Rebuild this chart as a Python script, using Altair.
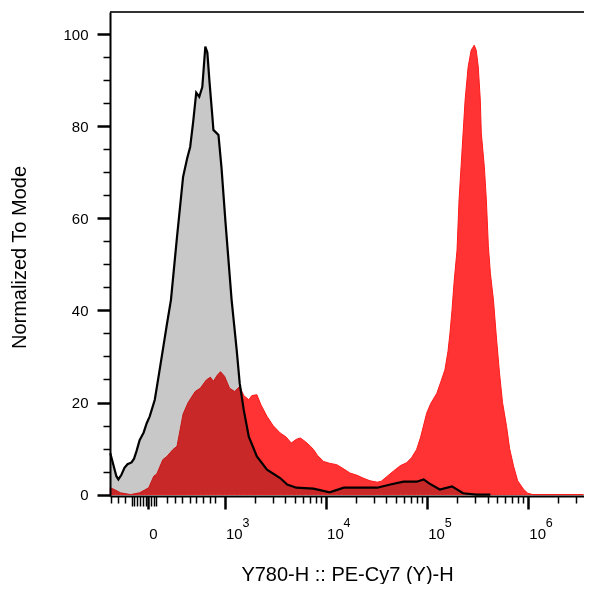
import math
import altair as alt
import pandas as pd

# x is in display decades (3 = 10^3, 4 = 10^4 ...), 2.24 is zero on the biex scale
# y is "% of mode"
gray_x = [1.87, 1.90, 1.93, 1.95, 1.98, 2.01, 2.04, 2.08, 2.105, 2.13, 2.16, 2.20,
          2.23, 2.26, 2.31, 2.35, 2.39, 2.43, 2.47, 2.53, 2.59, 2.63, 2.66, 2.69,
          2.72, 2.75, 2.78, 2.81, 2.83, 2.85, 2.88, 2.89, 2.94, 2.97, 3.01, 3.07,
          3.12, 3.15, 3.19, 3.24, 3.32, 3.42, 3.55, 3.62, 3.71, 3.88, 4.04, 4.18,
          4.51, 4.64, 4.77, 4.90, 4.97, 5.02, 5.13, 5.25, 5.36, 5.49, 5.63]
gray_y = [9.0, 6.5, 4.0, 3.3, 4.3, 5.8, 6.6, 7.0, 7.8, 9.5, 11.8, 13.5,
          15.5, 17.0, 20.6, 26.0, 31.5, 37.0, 42.3, 56.0, 69.0, 73.0, 75.5, 81.0,
          87.3, 86.4, 88.5, 97.3, 96.0, 90.0, 82.0, 79.2, 78.1, 71.0, 59.0, 42.3,
          31.5, 24.2, 18.4, 12.6, 8.3, 5.4, 3.6, 2.2, 1.5, 1.3, 0.5, 1.5,
          1.5, 2.2, 2.8, 2.8, 3.3, 2.5, 1.1, 1.8, 0.3, 0.0, 0.0]

red_x = [1.87, 1.92, 1.97, 2.07, 2.16, 2.21, 2.25, 2.30, 2.33, 2.39, 2.43, 2.49,
         2.53, 2.56, 2.59, 2.64, 2.71, 2.76, 2.82, 2.86, 2.89, 2.93, 2.96, 3.00,
         3.05, 3.10, 3.15, 3.19, 3.24, 3.27, 3.32, 3.36, 3.42, 3.48, 3.55, 3.61,
         3.66, 3.71, 3.75, 3.80, 3.85, 3.88, 3.92, 3.98, 4.04, 4.11, 4.17, 4.24,
         4.31, 4.37, 4.44, 4.51, 4.55, 4.60, 4.67, 4.74, 4.80, 4.85, 4.90, 4.94,
         5.00, 5.04, 5.10, 5.14, 5.18, 5.21, 5.23, 5.25, 5.27, 5.30, 5.32, 5.34,
         5.36, 5.38, 5.41, 5.44, 5.47, 5.49, 5.51, 5.53, 5.54, 5.57, 5.59, 5.61,
         5.63, 5.66, 5.69, 5.72, 5.75, 5.79, 5.82, 5.86, 5.90, 5.96, 6.00, 6.05, 6.55]
red_y = [1.5, 1.0, 0.4, 0.0, 0.4, 1.0, 1.5, 4.0, 4.5, 7.6, 8.3, 9.8,
         10.5, 14.0, 17.5, 20.0, 22.4, 23.1, 24.9, 25.5, 24.6, 26.0, 26.7, 25.7,
         23.1, 22.4, 23.5, 21.5, 20.6, 21.5, 21.7, 19.5, 17.0, 15.0, 13.4, 12.5,
         11.2, 12.0, 12.3, 11.5, 10.5, 9.8, 8.5, 7.2, 6.8, 6.5, 5.7, 4.7,
         4.2, 3.6, 3.0, 2.7, 2.9, 3.8, 5.1, 6.3, 6.9, 8.0, 9.8, 12.5,
         17.7, 19.8, 22.0, 24.5, 27.1, 31.0, 35.0, 40.0, 45.9, 53.1, 64.0, 71.2,
         78.5, 85.7, 92.9, 96.5, 97.6, 96.5, 92.9, 85.7, 78.5, 71.2, 64.0, 53.9,
         48.0, 42.3, 34.0, 26.4, 20.0, 14.8, 10.0, 6.1, 3.0, 1.1, 0.3, 0.0, 0.0]

X_MIN, X_MAX = 1.867, 6.556
Y_MIN, Y_MAX = -0.3, 104.8

ZERO = 2.24
major_ticks = [ZERO, 3, 4, 5, 6]
major_labels = ["0", "10", "10", "10", "10"]
exponents = ["3", "4", "5", "6"]
dense_ticks = [2.08, 2.105, 2.13, 2.16, 2.19, 2.22, 2.27, 2.30, 2.32]
linear_ticks = [1.88, 1.95, 2.02, 2.43, 2.51, 2.58, 2.66, 2.72, 2.79, 2.86, 2.91]
log_ticks = [d + math.log10(k) for d in (3, 4, 5, 6) for k in range(2, 10)
             if d + math.log10(k) < X_MAX]
x_ticks = sorted(major_ticks + dense_ticks + linear_ticks + log_ticks)

y_ticks = list(range(0, 101, 5))

FONT = "Liberation Sans"

gray = pd.DataFrame({"x": gray_x, "y": gray_y})
red = pd.DataFrame({"x": red_x, "y": red_y})
sup = pd.DataFrame({"x": major_ticks[1:], "t": exponents})

label_expr = " : ".join(
    f"datum.value == {v} ? '{t}'" for v, t in zip(major_ticks, major_labels)
) + " : ''"
is_major = f"indexof({major_ticks}, datum.value) >= 0"
is_dense = f"indexof({dense_ticks}, datum.value) >= 0"

x_axis = alt.Axis(
    values=x_ticks,
    tickCount=1000,
    labelExpr=label_expr,
    labelAlign="left",
    labelOffset=1,
    labelPadding=17,
    labelFont=FONT,
    labelFontSize=15,
    labelColor="black",
    labelOverlap=False,
    labelFlush=False,
    labelBound=False,
    tickColor="black",
    tickSize={"condition": [{"test": is_major, "value": 13},
                            {"test": is_dense, "value": 10}], "value": 7},
    tickWidth={"condition": {"test": is_major, "value": 2.5}, "value": 1.5},
    domainColor="black",
    domainWidth=2,
    grid=False,
    title="Y780-H :: PE-Cy7 (Y)-H",
    titleFont=FONT,
    titleFontSize=20,
    titleFontWeight="normal",
    titleColor="black",
    titleX=237,
    titleY=78,
    titleBaseline="middle",
    zindex=1,
)

y_axis = alt.Axis(
    values=y_ticks,
    tickCount=1000,
    labelExpr="datum.value % 20 == 0 ? datum.value : ''",
    labelPadding=9,
    labelFont=FONT,
    labelFontSize=15,
    labelColor="black",
    labelOverlap=False,
    labelFlush=False,
    tickColor="black",
    tickSize={"condition": {"test": "datum.value % 20 == 0", "value": 13}, "value": 7},
    tickWidth={"condition": {"test": "datum.value % 20 == 0", "value": 2.5}, "value": 1.5},
    domainColor="black",
    domainWidth=2,
    grid=False,
    title="Normalized To Mode",
    titleFont=FONT,
    titleFontSize=20,
    titleFontWeight="normal",
    titleColor="black",
    titleX=-91,
    titleY=245,
    titleBaseline="middle",
    zindex=1,
)

x_enc = alt.X("x:Q", scale=alt.Scale(domain=[X_MIN, X_MAX], nice=False, zero=False), axis=x_axis)
y_enc = alt.Y("y:Q", scale=alt.Scale(domain=[Y_MIN, Y_MAX], nice=False, zero=False), axis=y_axis)

gray_fill = alt.Chart(gray).mark_area(color="#c8c8c8").encode(x=x_enc, y=y_enc)

# multiply blend gives the dark red where the two histograms overlap
red_fill = alt.Chart(red).mark_area(
    fill="#ff3333", stroke="#ff1a1a", strokeWidth=1, blend="multiply"
).encode(x="x:Q", y="y:Q")

gray_line = alt.Chart(gray).mark_line(color="black", strokeWidth=2.2).encode(
    x="x:Q", y="y:Q"
)

top_line = alt.Chart(pd.DataFrame({"y": [Y_MAX]})).mark_rule(
    color="#333333", strokeWidth=2
).encode(y="y:Q")

# decade exponents, set as superscripts next to the "10" tick labels
sup_text = alt.Chart(sup).mark_text(
    align="left", baseline="top", dx=18, font=FONT, fontSize=12.5, color="black"
).encode(x="x:Q", y=alt.value(505), text="t:N")

chart = (
    alt.layer(gray_fill, red_fill, gray_line, top_line, sup_text)
    .properties(
        width=474,
        height=484,
        autosize="none",
        padding={"left": 102, "top": 4, "right": 0, "bottom": 88},
    )
    .configure_view(stroke=None)
)

chart.save("out.html", embed_options={"renderer": "svg", "actions": False})
